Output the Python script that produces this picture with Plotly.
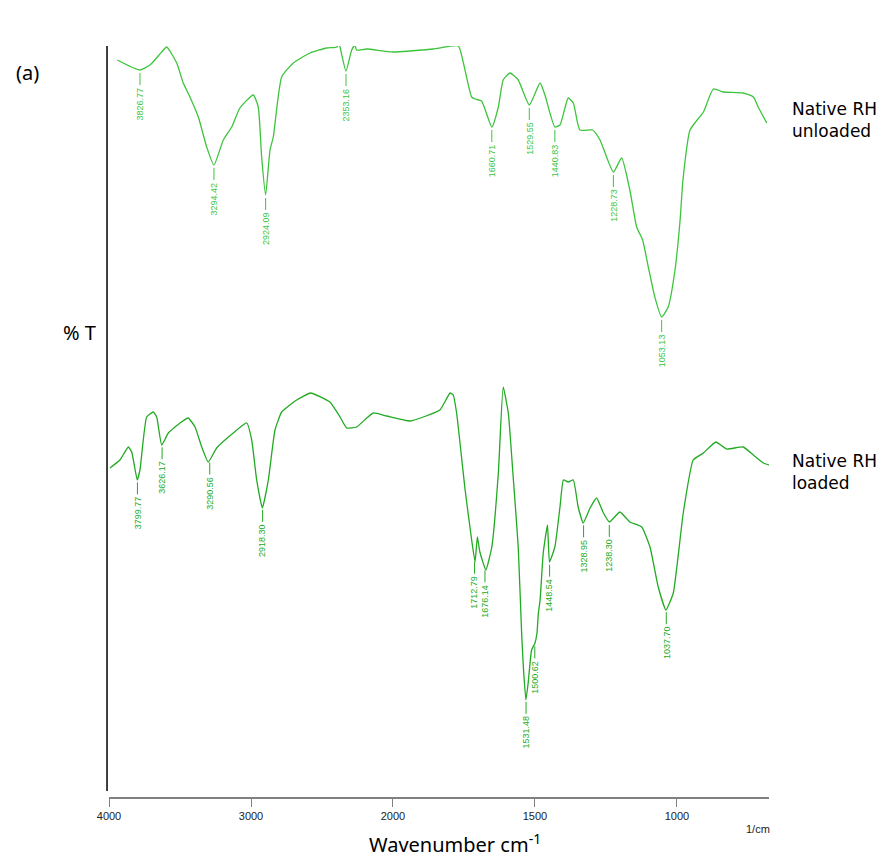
import numpy as np
import plotly.graph_objects as go

# ---------------- data (wavenumber cm-1, transmittance a.u.) ----------------
unloaded_wn = [3942, 3782, 3711, 3629, 3594, 3523, 3477, 3430, 3371, 3312, 3261, 3195, 3136,
               3078, 2984, 2949, 2925, 2897, 2866, 2843, 2784, 2702, 2585, 2467, 2394, 2385,
               2373, 2331, 2291, 2268, 2257, 2185, 2000, 1859, 1770, 1752, 1723, 1711, 1688,
               1652, 1629, 1612, 1588, 1559, 1520, 1482, 1465, 1430, 1412, 1383, 1365, 1342,
               1297, 1271, 1224, 1195, 1166, 1142, 1121, 1101, 1078, 1054, 1031, 1007, 989,
               979, 954, 907, 872, 837, 767, 731, 714, 684]
unloaded_t = [737, 727, 732, 745, 750, 734, 714, 700, 680, 650, 632, 657, 670,
              689, 702, 690, 640, 602, 647, 660, 720, 734, 744, 749, 750, 755,
              750, 726, 747, 752, 747, 748, 745, 748, 751, 734, 700, 698, 696,
              670, 690, 717, 724, 717, 692, 714, 702, 670, 672, 699, 694, 667,
              667, 657, 625, 639, 607, 570, 557, 530, 500, 480, 490, 527, 577,
              617, 667, 685, 708, 705, 704, 700, 690, 674]

loaded_wn = [3993, 3923, 3864, 3840, 3801, 3782, 3735, 3688, 3664, 3629, 3582, 3500, 3442,
             3394, 3347, 3301, 3242, 3125, 3030, 2995, 2960, 2920, 2878, 2831, 2784, 2678,
             2580, 2444, 2373, 2326, 2256, 2185, 2139, 2044, 1940, 1835, 1799, 1788, 1776,
             1746, 1723, 1711, 1703, 1694, 1673, 1652, 1629, 1612, 1594, 1576, 1559, 1547,
             1541, 1532, 1524, 1512, 1500, 1493, 1488, 1482, 1471, 1456, 1449, 1430, 1412,
             1400, 1383, 1365, 1348, 1330, 1306, 1283, 1259, 1238, 1201, 1166, 1124, 1095,
             1066, 1039, 1013, 978, 943, 907, 863, 825, 767, 731, 696, 676]
loaded_t = [329, 337, 350, 345, 317, 327, 380, 385, 380, 352, 364, 374, 379,
            370, 350, 335, 349, 364, 374, 357, 317, 289, 317, 367, 385, 397,
            404, 395, 380, 369, 370, 379, 384, 381, 376, 387, 404, 402, 384,
            307, 257, 235, 260, 245, 227, 250, 324, 410, 384, 317, 250, 164,
            130, 97, 114, 147, 154, 164, 184, 197, 244, 272, 235, 250, 290,
            317, 315, 317, 290, 274, 289, 299, 284, 275, 285, 275, 270, 250,
            210, 187, 204, 284, 337, 344, 355, 348, 350, 342, 334, 332]

unloaded_peak_pos = [3782, 3261, 2897, 2331, 1652, 1520, 1430, 1224, 1054]
unloaded_peak_txt = ["3826.77", "3294.42", "2924.09", "2353.16", "1660.71", "1529.55",
                     "1440.83", "1228.73", "1053.13"]
loaded_peak_pos = [3799.77, 3626.17, 3290.56, 2918.30, 1712.79, 1676.14, 1531.48, 1500.62,
                   1448.54, 1328.95, 1238.30, 1037.70]
loaded_peak_txt = ["3799.77", "3626.17", "3290.56", "2918.30", "1712.79", "1676.14",
                   "1531.48", "1500.62", "1448.54", "1328.95", "1238.30", "1037.70"]

tick_wn = [4000, 3000, 2000, 1500, 1000]
x_end_wn = 676


# FTIR scale change at 2000 cm-1 (2x expansion below 2000)
def xpos(w):
    w = np.asarray(w, dtype=float)
    return np.where(w >= 2000, (4000 - w) / 1000.0, 2 + (2000 - w) / 500.0)


GREEN_TOP = "#3cc43c"
GREEN_BOT = "#22aa22"

fig = go.Figure()
fig.add_trace(go.Scatter(x=xpos(unloaded_wn), y=unloaded_t, mode="lines",
                         line=dict(color=GREEN_TOP, width=1.3, shape="spline", smoothing=0.5),
                         hoverinfo="skip"))
fig.add_trace(go.Scatter(x=xpos(loaded_wn), y=loaded_t, mode="lines",
                         line=dict(color=GREEN_BOT, width=1.3, shape="spline", smoothing=0.4),
                         hoverinfo="skip"))

shapes = []
annotations = []


def add_peaks(wn, tt, pos, txt, color):
    wn_r = np.asarray(wn, float)[::-1]
    tt_r = np.asarray(tt, float)[::-1]
    for p, s in zip(pos, txt):
        tmin = float(np.interp(p, wn_r, tt_r))
        xp = float(xpos(p))
        shapes.append(dict(type="line", xref="x", yref="y", x0=xp, x1=xp,
                           y0=tmin - 3, y1=tmin - 15, line=dict(color=color, width=1)))
        annotations.append(dict(x=xp, y=tmin - 16, xref="x", yref="y", text=s,
                                textangle=-90, showarrow=False, xanchor="center",
                                yanchor="top", borderpad=0,
                                font=dict(family="Liberation Sans", size=9, color=color)))


add_peaks(unloaded_wn, unloaded_t, unloaded_peak_pos, unloaded_peak_txt, GREEN_TOP)
add_peaks(loaded_wn, loaded_t, loaded_peak_pos, loaded_peak_txt, GREEN_BOT)

# left vertical frame line
shapes.append(dict(type="line", xref="paper", yref="y", x0=-0.003, x1=-0.003, y0=6, y1=751,
                   line=dict(color="black", width=1.5)))

txtfont = "DejaVu Sans"
annotations += [
    dict(x=-0.123, y=0.965, xref="paper", yref="paper", text="(a)", showarrow=False,
         font=dict(family="Noto Sans", size=20, color="black"), xanchor="center", yanchor="middle"),
    dict(x=-0.044, y=0.618, xref="paper", yref="paper", text="% T", showarrow=False,
         font=dict(family="Noto Sans", size=20, color="black"), xanchor="center", yanchor="middle"),
    dict(x=1.032, y=0.901, xref="paper", yref="paper", text="Native RH<br>unloaded",
         showarrow=False, align="left", font=dict(family=txtfont, size=17, color="black"),
         xanchor="left", yanchor="middle"),
    dict(x=1.032, y=0.433, xref="paper", yref="paper", text="Native RH<br>loaded",
         showarrow=False, align="left", font=dict(family=txtfont, size=17, color="black"),
         xanchor="left", yanchor="middle"),
    dict(x=0.524, y=-0.062, xref="paper", yref="paper", text="Wavenumber cm<sup>-1</sup>",
         showarrow=False, font=dict(family="Noto Sans", size=20, color="black"),
         xanchor="center", yanchor="middle", borderpad=0),
    dict(x=0.983, y=-0.043, xref="paper", yref="paper", text="1/cm",
         showarrow=False, font=dict(family="Liberation Sans", size=11, color="#222"),
         xanchor="center", yanchor="middle"),
]

fig.update_layout(
    width=885, height=864,
    margin=dict(l=109, r=116, t=46, b=67),
    paper_bgcolor="white", plot_bgcolor="white",
    showlegend=False,
    shapes=shapes, annotations=annotations,
    xaxis=dict(range=[0, float(xpos(x_end_wn))], tickvals=[float(v) for v in xpos(tick_wn)],
               ticktext=[str(t) for t in tick_wn], showgrid=False, zeroline=False,
               showline=True, linecolor="#808080", linewidth=1.5, ticks="outside",
               ticklen=8, tickcolor="#808080", tickwidth=1.2,
               tickfont=dict(family="Liberation Sans", size=11, color="#222")),
    yaxis=dict(range=[0, 751], visible=False, showgrid=False, zeroline=False),
)

fig.write_html("out.html")
